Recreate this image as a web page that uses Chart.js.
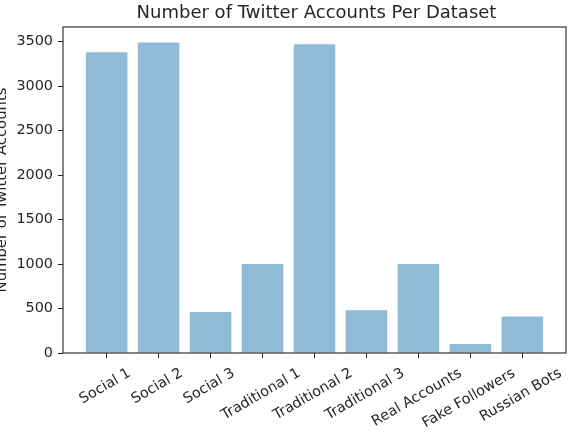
<!DOCTYPE html>
<html>
<head>
<meta charset="utf-8">
<script src="https://cdn.jsdelivr.net/npm/chart.js@4"></script>
<style>
  body { margin: 0; background: #fff; }
  canvas { display: block; }
</style>
</head>
<body>
<canvas id="accountsChart" width="569" height="432"></canvas>
<script>
const categories = ['Social 1', 'Social 2', 'Social 3', 'Traditional 1', 'Traditional 2',
    'Traditional 3', 'Real Accounts', 'Fake Followers', 'Russian Bots'];
const accounts = [3380, 3490, 460, 1000, 3470, 480, 1000, 100, 410];
const yTicks = [0, 500, 1000, 1500, 2000, 2500, 3000, 3500];

const titleText = 'Number of Twitter Accounts Per Dataset';
const yLabelText = 'Number of Twitter Accounts';
const fontFamily = '"DejaVu Sans", sans-serif';
const textColor = '#262626';
const tickSize = 14.4;

// matplotlib style margins: 5% of the data range on each side
const xMin = -0.4 - 0.05 * (categories.length - 1 + 0.8);
const xMax = categories.length - 1 + 0.4 + 0.05 * (categories.length - 1 + 0.8);
const yMax = Math.max(...accounts) * 1.05;

const points = accounts.map((v, i) => ({ x: i, y: v }));

// draws the frame, title, axis label and rotated category labels like pyplot does
const pyplotLook = {
    id: 'pyplotLook',
    afterDraw(chart) {
        const ctx = chart.ctx;
        const area = chart.chartArea;
        const xScale = chart.scales.x;

        ctx.save();
        ctx.strokeStyle = '#222';
        ctx.lineWidth = 1.1;
        ctx.strokeRect(area.left, area.top, area.right - area.left, area.bottom - area.top);

        ctx.fillStyle = textColor;
        ctx.font = '18px ' + fontFamily;
        ctx.textAlign = 'center';
        ctx.textBaseline = 'alphabetic';
        ctx.fillText(titleText, (area.left + area.right) / 2 + 2, area.top - 9.3);

        ctx.font = '14.8px ' + fontFamily;
        ctx.save();
        ctx.translate(2.5, (area.top + area.bottom) / 2);
        ctx.rotate(-Math.PI / 2);
        ctx.textBaseline = 'middle';
        ctx.fillText(yLabelText, 0, 0);
        ctx.restore();

        ctx.font = tickSize + 'px ' + fontFamily;
        const angle = Math.PI / 6;
        const h = tickSize * 1.17;
        const top = area.bottom + 5 + 7;
        categories.forEach((name, i) => {
            const w = ctx.measureText(name).width;
            const boxH = w * Math.sin(angle) + h * Math.cos(angle);
            ctx.save();
            ctx.translate(xScale.getPixelForValue(i) - 1.5, top + boxH / 2);
            ctx.rotate(-angle);
            ctx.textAlign = 'center';
            ctx.textBaseline = 'middle';
            ctx.fillText(name, 0, 0);
            ctx.restore();
        });
        ctx.restore();
    }
};

const ctx = document.getElementById('accountsChart').getContext('2d');
new Chart(ctx, {
    type: 'bar',
    data: {
        datasets: [{
            data: points,
            backgroundColor: 'rgba(31, 119, 180, 0.5)',
            borderWidth: 0,
            barPercentage: 0.8,
            categoryPercentage: 1
        }]
    },
    options: {
        responsive: false,
        animation: false,
        layout: { padding: { left: 0, top: 27, right: 3, bottom: 0 } },
        plugins: {
            legend: { display: false },
            tooltip: { enabled: false }
        },
        scales: {
            x: {
                type: 'linear',
                min: xMin,
                max: xMax,
                offset: false,
                grid: { offset: false, drawOnChartArea: false, tickLength: 5, color: '#222' },
                border: { display: false },
                ticks: { display: false, stepSize: 1 },
                afterBuildTicks: s => {
                    s.ticks = categories.map((c, i) => ({ value: i }));
                },
                afterFit: s => { s.height = 79; }
            },
            y: {
                min: 0,
                max: yMax,
                grid: { drawOnChartArea: false, tickLength: 5, color: '#222' },
                border: { display: false },
                ticks: {
                    color: textColor,
                    padding: 5,
                    font: { family: fontFamily, size: tickSize },
                    callback: v => String(v)
                },
                afterBuildTicks: s => {
                    s.ticks = yTicks.map(v => ({ value: v }));
                },
                afterFit: s => { s.width = 63; }
            }
        }
    },
    plugins: [pyplotLook]
});
</script>
</body>
</html>
